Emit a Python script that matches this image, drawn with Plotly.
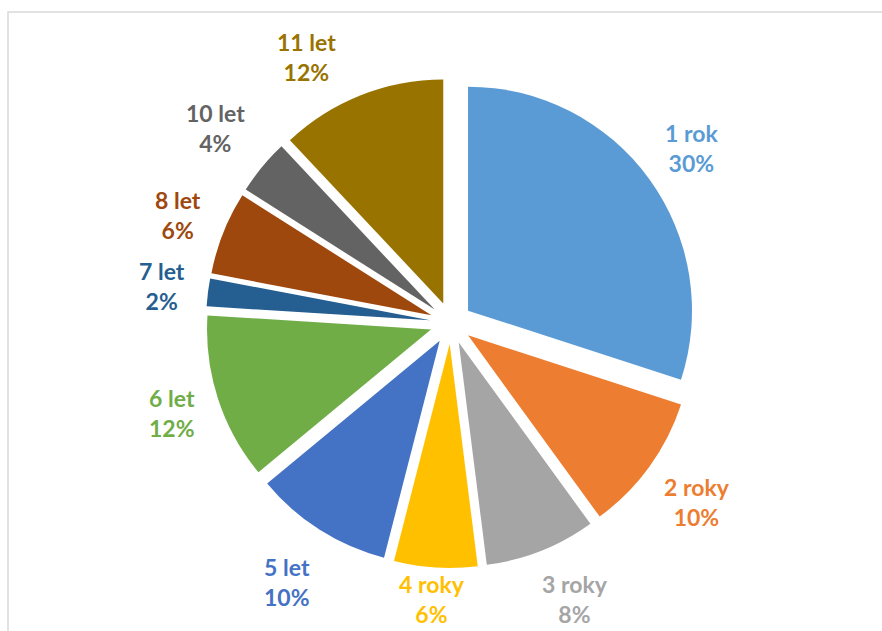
import math
import plotly.graph_objects as go

# Share of respondents by length of membership
categories = ["1 rok", "2 roky", "3 roky", "4 roky", "5 let", "6 let",
              "7 let", "8 let", "10 let", "11 let"]
shares = [30, 10, 8, 6, 10, 12, 2, 6, 4, 12]
colors = ["#5B9BD5", "#ED7D31", "#A5A5A5", "#FFC000", "#4472C4", "#70AD47",
          "#255E91", "#9E480E", "#636363", "#997300"]

W, H = 882, 631
PULL = 0.094

# pie placement in pixels
CX, CY = 451, 323          # pie centre
BOX = 490                  # height of the pie domain
OUTER = 245                # radius of the pulled-out slice edges
GAP = 20                   # space between slice edge and label box
HALF_H = 35                # vertical half-extent of a two-line label (with padding)
CHAR_W = 5.3               # half width per character of the label font
LABEL_Y_MIN, LABEL_Y_MAX = 57, 599   # keep labels inside the chart area

dom_x = [(CX - 265) / W, (CX + 265) / W]
dom_y = [1 - (CY + BOX / 2) / H, 1 - (CY - BOX / 2) / H]

fig = go.Figure(
    go.Pie(
        labels=categories,
        values=shares,
        sort=False,
        direction="clockwise",
        rotation=0,
        pull=[PULL] * len(shares),
        marker=dict(colors=colors, line=dict(width=0)),
        textinfo="none",
        hoverinfo="label+percent",
        domain=dict(x=dom_x, y=dom_y),
    )
)

# data labels: category name and percentage, placed just outside each slice
total = sum(shares)
cum = 0.0
for name, val, col in zip(categories, shares, colors):
    mid = (cum + val / 2) / total * 2 * math.pi
    cum += val
    ux, uy = math.sin(mid), -math.cos(mid)
    half_w = CHAR_W * len(name)
    reach = min(half_w / max(abs(ux), 1e-6), HALF_H / max(abs(uy), 1e-6))
    dist = OUTER + GAP + reach
    px = CX + dist * ux
    py = CY + dist * uy
    limited = min(max(py, LABEL_Y_MIN), LABEL_Y_MAX)
    if limited != py:
        # slide the label round the pie to stay inside the frame;
        # labels almost straight above/below are only shifted vertically
        dy = limited - CY
        if abs(ux) > math.sin(math.radians(10)) and abs(dy) < dist:
            px = CX + math.copysign(math.sqrt(dist ** 2 - dy ** 2), ux)
        py = limited
    fig.add_annotation(
        x=px / W, y=1 - py / H, xref="paper", yref="paper",
        xanchor="center", yanchor="middle", align="center",
        text=f"{name}<br>{round(100 * val / total)}%",
        showarrow=False,
        font=dict(family="Lato", size=23, color=col, weight="bold"),
    )

# light grey chart-area frame
fig.add_shape(
    type="rect", xref="paper", yref="paper",
    x0=8 / W, x1=1.1, y0=-0.1, y1=1 - 12 / H,
    line=dict(color="#D9D9D9", width=1.5), fillcolor="rgba(0,0,0,0)",
    layer="below",
)

fig.update_layout(
    width=W, height=H,
    margin=dict(l=0, r=0, t=0, b=0),
    paper_bgcolor="white",
    plot_bgcolor="white",
    showlegend=False,
)

fig.write_html("out.html")
